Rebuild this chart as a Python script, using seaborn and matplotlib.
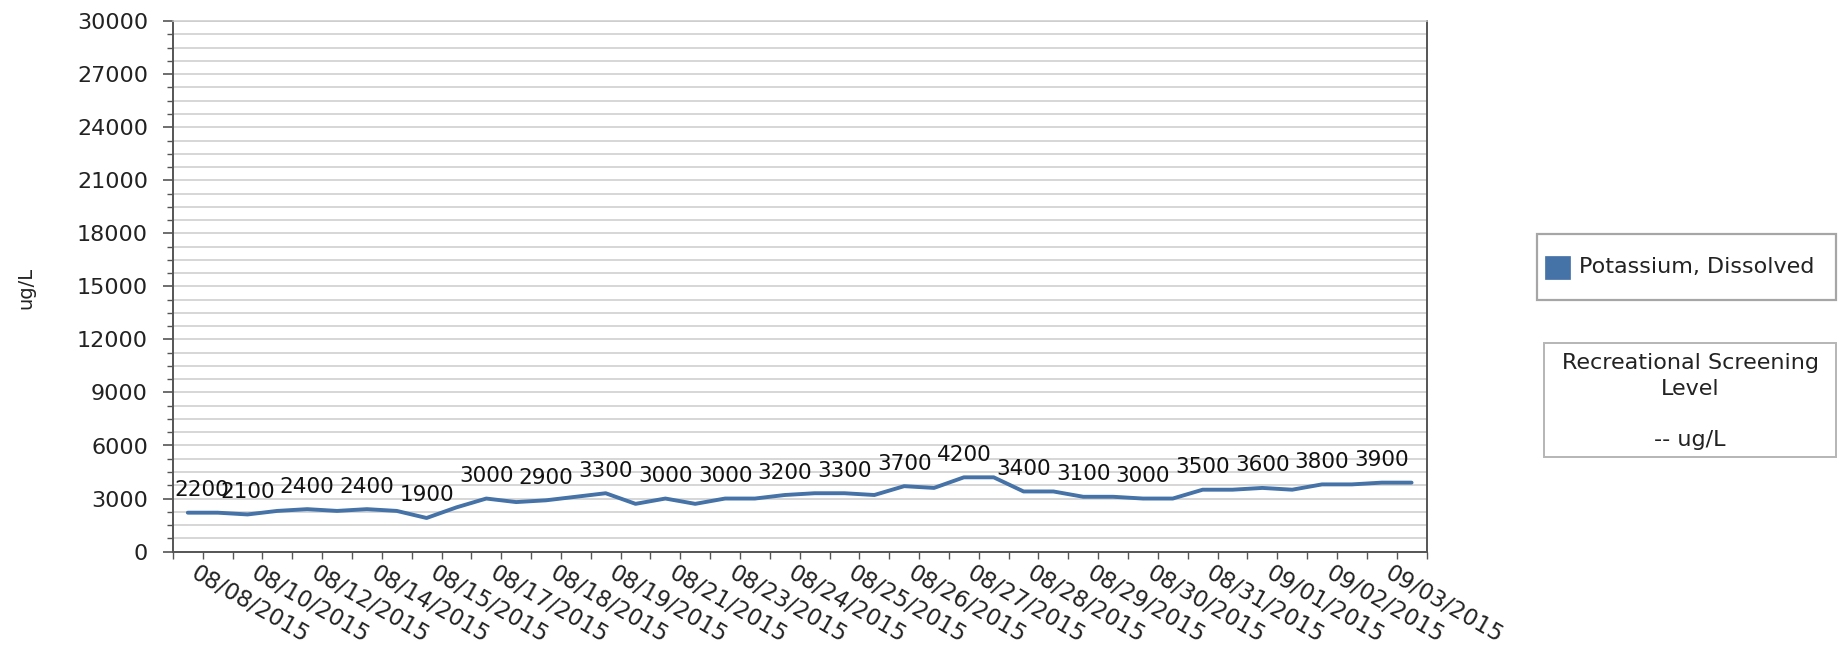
import matplotlib
matplotlib.use("Agg")
import matplotlib.pyplot as plt
from matplotlib.patches import Rectangle
from matplotlib.ticker import MultipleLocator, FixedLocator
from matplotlib.transforms import ScaledTranslation
import seaborn as sns
import pandas as pd

# ---- data ----
dates = ["08/08/2015", "08/09/2015", "08/10/2015", "08/11/2015", "08/12/2015", "08/13/2015",
         "08/14/2015", "08/14/2015", "08/15/2015", "08/16/2015", "08/17/2015", "08/17/2015",
         "08/18/2015", "08/18/2015", "08/19/2015", "08/20/2015", "08/21/2015", "08/22/2015",
         "08/23/2015", "08/23/2015", "08/24/2015", "08/24/2015", "08/25/2015", "08/25/2015",
         "08/26/2015", "08/26/2015", "08/27/2015", "08/27/2015", "08/28/2015", "08/28/2015",
         "08/29/2015", "08/29/2015", "08/30/2015", "08/30/2015", "08/31/2015", "08/31/2015",
         "09/01/2015", "09/01/2015", "09/02/2015", "09/02/2015", "09/03/2015", "09/03/2015"]
potassium = [2200, 2200, 2100, 2300, 2400, 2300, 2400, 2300, 1900, 2500,
             3000, 2800, 2900, 3100, 3300, 2700, 3000, 2700, 3000, 3000,
             3200, 3300, 3300, 3200, 3700, 3600, 4200, 4200, 3400, 3400,
             3100, 3100, 3000, 3000, 3500, 3500, 3600, 3500, 3800, 3800,
             3900, 3900]
series_name = "Potassium, Dissolved"
y_unit = "ug/L"
screening_text = "Recreational Screening\nLevel\n\n-- ug/L"

LINE_COLOR = "#4572A7"
FS = 16
FS_DATA = 15.5
FS_DATE = 16.5

sns.set_theme(style="white")
plt.rcParams["font.family"] = ["DejaVu Sans"]

df = pd.DataFrame({"idx": list(range(len(potassium))), "value": potassium})

fig = plt.figure(figsize=(18.44, 6.48), dpi=100)
ax = fig.add_axes([0.09375, 0.1488, 0.7736 - 0.09375, 0.9673 - 0.1488])

sns.lineplot(data=df, x="idx", y="value", color=LINE_COLOR, linewidth=2.8, ax=ax,
             legend=False, zorder=3)

n = len(potassium)
ax.set_xlim(-0.5, n - 0.5)
ax.set_ylim(0, 30000)

# y axis
ax.yaxis.set_major_locator(MultipleLocator(3000))
ax.yaxis.set_minor_locator(MultipleLocator(750))
ax.grid(which="both", axis="y", color="#cccccc", linewidth=1.1, zorder=0)
ax.grid(which="both", axis="x", visible=False)
ax.tick_params(axis="y", which="major", direction="out", length=7, width=1.2,
               color="#555555", labelsize=FS, pad=11, left=True)
ax.tick_params(axis="y", which="minor", direction="out", length=4, width=1.0,
               color="#555555", left=True)

# x axis: labels on every other category, tick marks at category boundaries
label_pos = list(range(0, n, 2))
ax.xaxis.set_major_locator(FixedLocator(label_pos))
ax.set_xticklabels([dates[i] for i in label_pos], rotation=-30, ha="left", va="top",
                   rotation_mode="anchor", fontsize=FS_DATE)
ax.xaxis.set_minor_locator(FixedLocator([i - 0.5 for i in range(n + 1)]))
ax.tick_params(axis="x", which="major", length=0, pad=7, bottom=True)
ax.tick_params(axis="x", which="minor", direction="out", length=5, width=1.0,
               color="#555555", bottom=True)
shift = ScaledTranslation(8 / 72, 0, fig.dpi_scale_trans)
for lab in ax.get_xticklabels():
    lab.set_transform(lab.get_transform() + shift)

ax.set_xlabel("")
ax.set_ylabel("")
for lab in ax.get_yticklabels() + ax.get_xticklabels():
    lab.set_color("#222222")

for side in ["left", "bottom", "right"]:
    ax.spines[side].set_color("#555555")
    ax.spines[side].set_linewidth(1.4)
ax.spines["top"].set_color("#cccccc")
ax.spines["top"].set_linewidth(1.1)

# data labels on every other point
for i in label_pos:
    v = potassium[i]
    if i == 0:
        ax.annotate(f"{v}", xy=(-0.5, v), xytext=(1, 9), textcoords="offset points",
                    ha="left", va="bottom", fontsize=FS_DATA, color="#111111", zorder=4)
    else:
        ax.annotate(f"{v}", xy=(i, v), xytext=(0, 9), textcoords="offset points",
                    ha="center", va="bottom", fontsize=FS_DATA, color="#111111", zorder=4)

fig.text(0.014, 0.555, y_unit, rotation=90, ha="center", va="center", fontsize=FS - 2,
         color="#222222")

# legend box
fig.add_artist(Rectangle((0.8335, 0.5372), 0.9955 - 0.8335, 0.6388 - 0.5372,
                         transform=fig.transFigure, facecolor="white",
                         edgecolor="#a6a6a6", linewidth=1.6))
fig.add_artist(Rectangle((0.838, 0.5699), 0.0134, 0.0345, transform=fig.transFigure,
                         facecolor=LINE_COLOR, edgecolor=LINE_COLOR, linewidth=0.5))
fig.text(0.8565, 0.588, series_name, ha="left", va="center", fontsize=FS, color="#222222")

# screening level box
fig.add_artist(Rectangle((0.8374, 0.294), 0.9955 - 0.8374, 0.47 - 0.294,
                         transform=fig.transFigure, facecolor="white",
                         edgecolor="#b5b5b5", linewidth=1.4))
fig.text(0.9165, 0.380, screening_text, ha="center", va="center", fontsize=FS,
         color="#222222", linespacing=1.36, multialignment="center")

fig.savefig("out.png", dpi=100)
